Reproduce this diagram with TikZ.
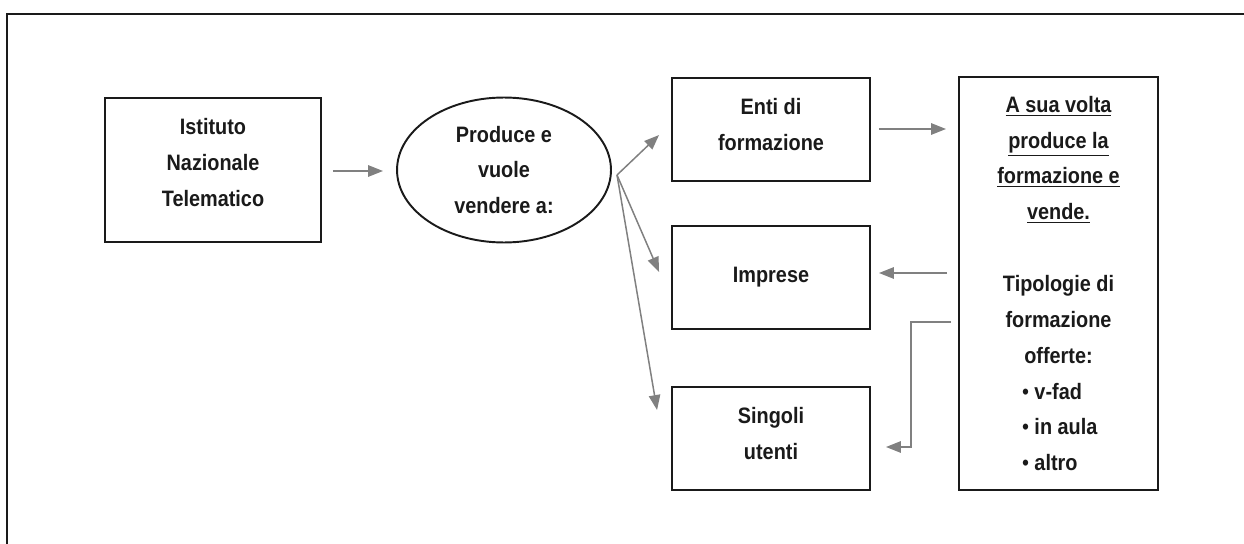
\documentclass[tikz,border=0pt]{standalone}
\usepackage{fontspec}
\setmainfont{Liberation Sans}[FakeStretch=0.89]
\usetikzlibrary{arrows.meta,calc,shapes.geometric}
\definecolor{arrgray}{HTML}{808080}
\definecolor{ink}{HTML}{1A1A1A}
\tikzset{
  txt/.style={font=\fontsize{12.7}{20.4}\selectfont\bfseries, text=ink, align=center},
  box/.style={txt, draw=ink, line width=1.1pt, inner sep=0pt, rectangle},
  oval/.style={txt, draw=ink, line width=1.1pt, inner sep=0pt, ellipse},
  arr/.style={draw=arrgray, line width=0.85pt, -{Triangle[length=8.5pt,width=6.5pt]}},
  frame/.style={draw=ink, line width=1.2pt}
}
\begin{document}
\begin{tikzpicture}[x=0.02cm,y=-0.02cm]
\useasboundingbox (0,0) rectangle (1244,544);
\begin{scope}
\clip (0,0) rectangle (1244,544);
\draw[frame] (7,560) -- (7,14) -- (1260,14);
\end{scope}
\node[box, minimum width=4.32cm, minimum height=2.88cm] (ist) at (213,170) {Istituto\\Nazionale\\Telematico\rule[-9pt]{0pt}{9pt}};
\node[oval, minimum width=4.28cm, minimum height=2.9cm] (ell) at (504,170) {Produce e\\vuole\\vendere a:};
\node[box, minimum width=3.96cm, minimum height=2.06cm] (enti) at (771,129.5) {Enti di\\formazione\rule[-6pt]{0pt}{6pt}};
\node[box, minimum width=3.96cm, minimum height=2.06cm] (imp) at (771,277.5) {Imprese};
\node[box, minimum width=3.96cm, minimum height=2.06cm] (sing) at (771,438.5) {Singoli\\utenti\rule[-6pt]{0pt}{6pt}};
\node[box, minimum width=3.98cm, minimum height=8.26cm] (right) at (1058.5,283.5) {\underline{A sua volta}\\\underline{produce la}\\\underline{formazione e}\\\underline{vende.}\\\mbox{}\\Tipologie di\\formazione\\offerte:\\\makebox[1.46cm][l]{\mdseries\textbullet\ \bfseries v-fad}\\\makebox[1.46cm][l]{\mdseries\textbullet\ \bfseries in aula}\\\makebox[1.46cm][l]{\mdseries\textbullet\ \bfseries altro}};
\coordinate (fan) at (617,175);
\draw[arr] ($(ist.east)+(11,1)$) -- ($(ell.west)+(-13,1)$);
\draw[arr] (fan) -- ($(enti.west)+(-12,5.5)$);
\draw[arr] (fan) -- ($(imp.west)+(-12,-5.5)$);
\draw[arr] (fan) -- ($(sing.west)+(-14,-28.5)$);
\draw[arr] ($(enti.east)+(8,-0.5)$) -- ($(right.west|-enti.east)+(-12,-0.5)$);
\draw[arr] ($(right.west|-imp.east)+(-11,-4.5)$) -- ($(imp.east)+(8,-4.5)$);
\draw[arr] ($(right.west)+(-7,38.5)$) -| ($(sing.east)+(40,8.5)$) -- ($(sing.east)+(15,8.5)$);
\end{tikzpicture}
\end{document}
